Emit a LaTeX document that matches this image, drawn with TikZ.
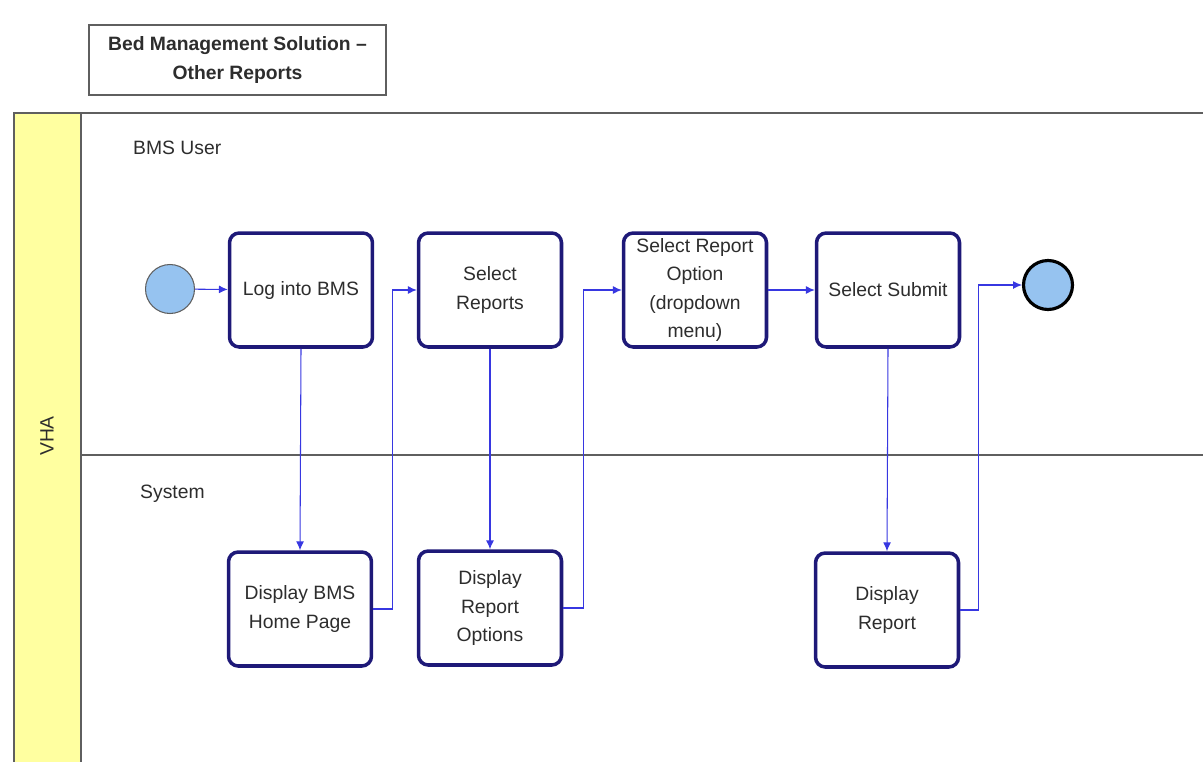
\documentclass[tikz,border=0pt]{standalone}
\usepackage{fontspec}
\setmainfont{Liberation Sans}
\usetikzlibrary{arrows.meta,positioning}
\definecolor{boxNavy}{RGB}{30,25,120}
\definecolor{flowBlue}{RGB}{55,55,225}
\definecolor{laneYellow}{RGB}{255,255,160}
\definecolor{laneGray}{RGB}{95,95,95}
\definecolor{eventBlue}{RGB}{150,195,240}
\definecolor{txtGray}{RGB}{45,45,45}

\begin{document}
\begin{tikzpicture}[x=0.02cm, y=-0.02cm,
    every node/.style={font=\fontsize{11}{16}\selectfont, text=txtGray},
    task/.style={draw=boxNavy, line width=2pt, rounded corners=5.5pt, fill=white,
      minimum width=2.86cm, minimum height=2.28cm, align=center, inner sep=1pt},
    flow/.style={draw=flowBlue, line width=0.6pt, -{Latex[length=5pt,width=4.5pt]}},
    event/.style={circle, draw, fill=eventBlue, minimum size=0.98cm, inner sep=0pt}]
    \useasboundingbox (0,0) rectangle (1203,761);
    % pool and lanes
    \fill[laneYellow] (14,113) rectangle (81,770);
    \draw[laneGray, line width=0.8pt] (14,770) -- (14,113) -- (1203,113);
    \draw[laneGray, line width=0.8pt] (81,113) -- (81,770);
    \draw[laneGray, line width=0.8pt] (81,455) -- (1203,455);
    \node[rotate=90] (pool) at (47,436) {VHA};
    \node[anchor=west] (userlane) at (127,148) {BMS User};
    \node[anchor=west] (syslane) at (134,494) {System};
    % title
    \node[draw=laneGray, line width=0.8pt, minimum width=5.94cm, minimum height=1.4cm,
      align=center, font=\fontsize{11}{16}\selectfont\bfseries] (title) at (237.5,60) {Bed Management Solution --\\Other Reports};
    % events and tasks
    \node[event, draw=laneGray, line width=0.6pt] (start) at (170,289) {};
    \node[task] (login) at (301,290) {Log into BMS};
    \node[task] (selrep) at (490,290) {Select\\Reports};
    \node[task] (selopt) at (695,290) {Select Report\\Option\\(dropdown\\menu)};
    \node[task] (submit) at (888,290) {Select Submit};
    \node[event, draw=black, line width=1.8pt] (finish) at (1048,285) {};
    \node[task] (home) at (300,609) {Display BMS\\Home Page};
    \node[task] (opts) at (490,608) {Display\\Report\\Options};
    \node[task] (report) at (887,610) {Display\\Report};
    % connectors
    \draw[flow] (start) -- (login);
    \draw[flow] (login.south) -- (home.north);
    \draw[flow] (home.east) -- ++(19,0) |- (selrep.west);
    \draw[flow] (selrep.south) -- (opts.north);
    \draw[flow] (opts.east) -- ++(20,0) |- (selopt.west);
    \draw[flow] (selopt) -- (submit);
    \draw[flow] (submit.south) -- (report.north);
    \draw[flow] (report.east) -- ++(18,0) |- (finish.west);
\end{tikzpicture}
\end{document}
